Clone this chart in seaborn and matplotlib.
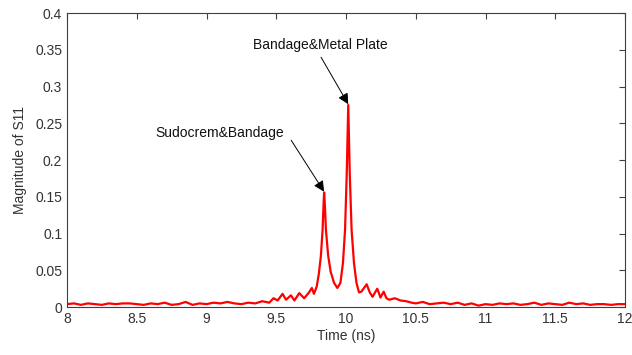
import matplotlib
matplotlib.use("Agg")
import matplotlib.pyplot as plt
import pandas as pd
import seaborn as sns

time_ns = [8.00, 8.05, 8.10, 8.15, 8.20, 8.25, 8.30, 8.35, 8.40, 8.45,
           8.50, 8.55, 8.60, 8.65, 8.70, 8.75, 8.80, 8.85, 8.90, 8.95,
           9.00, 9.05, 9.10, 9.15, 9.20, 9.25, 9.30, 9.35, 9.40, 9.45,
           9.48, 9.51, 9.545, 9.57, 9.605, 9.63, 9.665, 9.70, 9.735, 9.755,
           9.77, 9.79, 9.805, 9.82, 9.832, 9.839, 9.843, 9.848, 9.856, 9.872,
           9.89, 9.914, 9.938, 9.96, 9.978, 9.993, 10.005, 10.016, 10.027, 10.04,
           10.057, 10.075, 10.093, 10.11, 10.148, 10.17, 10.19, 10.224, 10.247, 10.27,
           10.29, 10.31, 10.35, 10.39, 10.43, 10.47, 10.50, 10.55, 10.60, 10.65,
           10.70, 10.75, 10.80, 10.85, 10.90, 10.95, 11.00, 11.05, 11.10, 11.15,
           11.20, 11.25, 11.30, 11.35, 11.40, 11.45, 11.50, 11.55, 11.60, 11.65,
           11.70, 11.75, 11.80, 11.85, 11.90, 11.95, 12.00]
s11 = [0.004, 0.005, 0.003, 0.005, 0.004, 0.003, 0.005, 0.004, 0.005, 0.005,
       0.004, 0.003, 0.005, 0.004, 0.006, 0.003, 0.004, 0.007, 0.003, 0.005,
       0.004, 0.006, 0.005, 0.007, 0.005, 0.004, 0.006, 0.005, 0.008, 0.006,
       0.012, 0.009, 0.018, 0.010, 0.016, 0.009, 0.019, 0.012, 0.020, 0.026,
       0.018, 0.028, 0.045, 0.070, 0.105, 0.140, 0.156, 0.140, 0.105, 0.070,
       0.048, 0.033, 0.026, 0.033, 0.060, 0.105, 0.180, 0.275, 0.180, 0.105,
       0.060, 0.033, 0.020, 0.021, 0.031, 0.020, 0.014, 0.025, 0.013, 0.021,
       0.012, 0.010, 0.012, 0.009, 0.008, 0.006, 0.005, 0.007, 0.004, 0.005,
       0.006, 0.004, 0.006, 0.003, 0.005, 0.002, 0.004, 0.003, 0.005, 0.004,
       0.005, 0.003, 0.004, 0.006, 0.003, 0.005, 0.004, 0.003, 0.006, 0.004,
       0.005, 0.003, 0.004, 0.004, 0.003, 0.004, 0.004]

labels = ["Sudocrem&Bandage", "Bandage&Metal Plate"]
peak_t = [9.843, 10.016]
peak_v = [0.157, 0.276]
text_pos = [(8.63, 0.237), (9.33, 0.357)]
tail_pos = [(9.607, 0.227), (9.821, 0.340)]

df = pd.DataFrame({"t": time_ns, "s11": s11})

sns.set_style("white")
plt.rcParams["font.family"] = ["Liberation Sans", "DejaVu Sans"]

fig = plt.figure(figsize=(6.32, 3.55), dpi=100)
ax = fig.add_axes([0.106, 0.135, 0.883, 0.828])
sns.lineplot(data=df, x="t", y="s11", color="red", lw=1.6, ax=ax,
             sort=False, estimator=None)

ax.set_xlim(8, 12)
ax.set_ylim(0, 0.4)
ax.set_xticks([8, 8.5, 9, 9.5, 10, 10.5, 11, 11.5, 12])
ax.set_xticklabels(["8", "8.5", "9", "9.5", "10", "10.5", "11", "11.5", "12"])
ax.set_yticks([0, 0.05, 0.1, 0.15, 0.2, 0.25, 0.3, 0.35, 0.4])
ax.set_yticklabels(["0", "0.05", "0.1", "0.15", "0.2", "0.25", "0.3", "0.35", "0.4"])
ax.tick_params(direction="in", length=4, width=0.8, colors="#404040",
               labelsize=10, top=True, right=True, labelcolor="#333333")
for sp in ax.spines.values():
    sp.set_color("#404040")
    sp.set_linewidth(0.8)
ax.set_xlabel("Time (ns)", fontsize=10, color="#333333", labelpad=2)
ax.set_ylabel("Magnitude of S11", fontsize=10, color="#333333", labelpad=6)

for lab, px, pv, tp, tl in zip(labels, peak_t, peak_v, text_pos, tail_pos):
    ax.annotate("", xy=(px, pv), xytext=tl,
                arrowprops=dict(arrowstyle="-|>", color="black", lw=0.7,
                                mutation_scale=16, shrinkA=0, shrinkB=0))
    ax.text(tp[0], tp[1], lab, fontsize=10, color="#111111", va="center", ha="left")

fig.savefig("out.png", dpi=100)
